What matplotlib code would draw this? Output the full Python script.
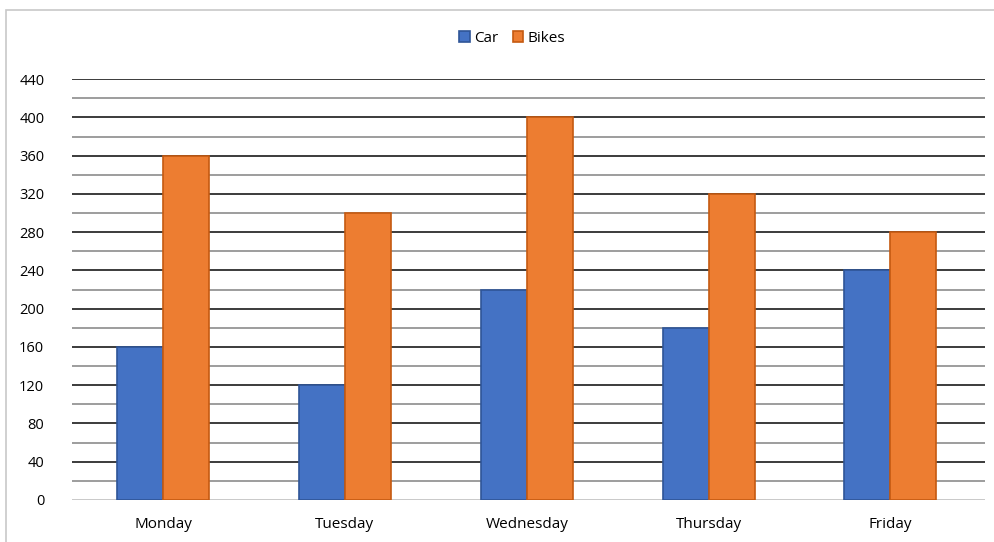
import matplotlib
matplotlib.use("Agg")
import matplotlib.pyplot as plt
import numpy as np
from matplotlib.patches import Rectangle

days = ["Monday", "Tuesday", "Wednesday", "Thursday", "Friday"]
car = [160, 120, 220, 180, 240]
bikes = [360, 300, 400, 320, 280]
yticks = list(range(0, 441, 40))

plt.rcParams['font.family'] = ['Open Sans', 'DejaVu Sans']

fig = plt.figure(figsize=(9.95, 5.42), dpi=100)
fig.patches.append(Rectangle((0.006, -0.01), 1.2, 0.992, transform=fig.transFigure,
                             fill=False, edgecolor='#c8c8c8', linewidth=1.2, zorder=0))
ax = fig.add_axes([0.0724, 0.0775, 0.9176, 0.7765])

x = np.arange(len(days))
w = 0.253
ax.set_ylim(0, 440)
ax.set_xlim(-0.5, 4.52)

for v in range(20, 441, 20):
    if v % 40 == 0:
        ax.axhline(v, color='#1a1a1a', linewidth=1.2, zorder=1)
    else:
        ax.axhline(v, color='#8c8c8c', linewidth=1.2, zorder=1)
ax.axhline(0, color='#c0c0c0', linewidth=1.2, zorder=1)

ax.bar(x - w/2, car, width=w, color='#4472C4', edgecolor='#2F5597', linewidth=1.2, label='Car', zorder=2)
ax.bar(x + w/2, bikes, width=w, color='#ED7D31', edgecolor='#C55A11', linewidth=1.2, label='Bikes', zorder=2)

ax.set_yticks(yticks)
ax.set_xticks(x)
ax.set_xticklabels(days, fontsize=11)
ax.tick_params(axis='y', length=0, pad=20, labelsize=10.5)
ax.tick_params(axis='x', length=0, pad=12)
for s in ax.spines.values():
    s.set_visible(False)

fig.legend(loc='center', bbox_to_anchor=(0.515, 0.929), ncol=2, frameon=False,
           fontsize=11, handlelength=0.7, handleheight=0.7, handletextpad=0.3,
           columnspacing=0.9)

fig.savefig("out.png", dpi=100)
